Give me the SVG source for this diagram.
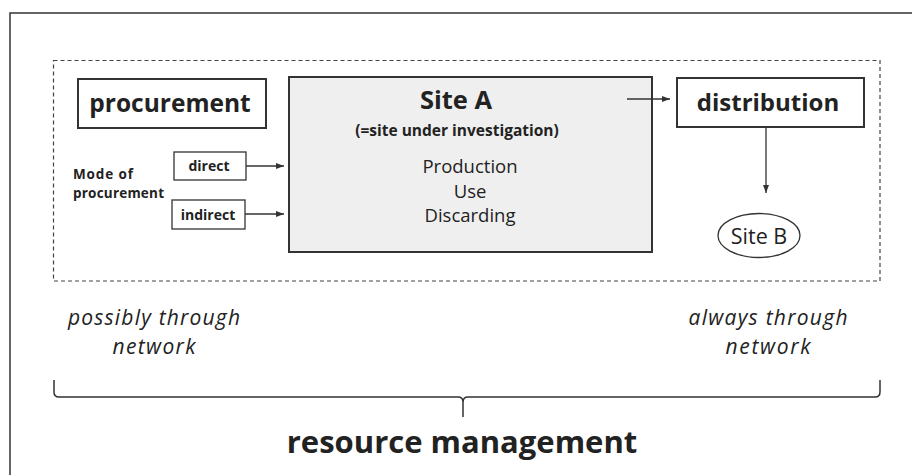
<svg xmlns="http://www.w3.org/2000/svg" width="912" height="475" viewBox="0 0 912 475">
  <style>
    text { font-family: "Open Sans", "Noto Sans", "Liberation Sans", sans-serif; fill: #222; }
    .b { font-weight: bold; }
    .it { font-style: italic; }
    .mid { text-anchor: middle; }
    .box { fill: #fff; stroke: #333; stroke-width: 2; }
    .thin { fill: #fff; stroke: #333; stroke-width: 1.3; }
    .conn { stroke: #333; stroke-width: 1.3; fill: none; marker-end: url(#ah); }
  </style>
  <defs>
    <marker id="ah" viewBox="0 0 8 8" refX="8" refY="4" markerWidth="8" markerHeight="8" markerUnits="userSpaceOnUse" orient="auto">
      <path d="M0,1 L8,4 L0,7 Z" fill="#333"/>
    </marker>
  </defs>

  <rect width="912" height="475" fill="#fff"/>
  <!-- outer frame, runs off the right and bottom edges -->
  <rect x="10" y="13" width="930" height="500" fill="none" stroke="#333" stroke-width="1.5"/>

  <!-- dashed boundary -->
  <rect id="boundary" x="53.5" y="60.5" width="826.5" height="220.5" fill="none" stroke="#444" stroke-width="1.2" stroke-dasharray="4,3"/>

  <g id="procurement">
    <rect class="box" x="78" y="79" width="188" height="49"/>
    <text class="b mid" x="170" y="112" font-size="24.5">procurement</text>
  </g>

  <g id="mode">
    <text class="b" x="73" y="179" font-size="13.5" textLength="60" lengthAdjust="spacing">Mode of</text>
    <text class="b" x="73" y="198" font-size="13.5" textLength="91" lengthAdjust="spacing">procurement</text>
  </g>

  <g id="direct">
    <rect class="thin" x="174" y="152" width="72" height="28"/>
    <text class="b mid" x="209" y="171" font-size="14">direct</text>
  </g>

  <g id="indirect">
    <rect class="thin" x="172" y="200" width="73" height="29"/>
    <text class="b mid" x="208" y="219.5" font-size="14">indirect</text>
  </g>

  <g id="siteA">
    <rect x="289" y="77" width="363" height="175" fill="#efefef" stroke="#333" stroke-width="2"/>
    <text class="b mid" x="456" y="109" font-size="25.5">Site A</text>
    <text class="b mid" x="457" y="136" font-size="15.5">(=site under investigation)</text>
    <text class="mid" x="470" y="173" font-size="18.5">Production</text>
    <text class="mid" x="470" y="198" font-size="18.5">Use</text>
    <text class="mid" x="470" y="222" font-size="18.5">Discarding</text>
  </g>

  <g id="distribution">
    <rect class="box" x="677" y="78" width="187" height="49"/>
    <text class="b mid" x="768" y="111" font-size="24">distribution</text>
  </g>

  <g id="siteB">
    <ellipse cx="759" cy="235.5" rx="41" ry="22" fill="#fff" stroke="#333" stroke-width="1.3"/>
    <text class="mid" x="759" y="244" font-size="21.5">Site B</text>
  </g>

  <g id="connectors">
    <line class="conn" x1="246" y1="166" x2="284" y2="166"/>
    <line class="conn" x1="245" y1="214" x2="284" y2="214"/>
    <line class="conn" x1="627" y1="99" x2="670" y2="99"/>
    <line class="conn" x1="766" y1="127" x2="766" y2="193"/>
  </g>

  <g id="notes">
    <text class="it mid" x="154" y="325" font-size="21" textLength="172" lengthAdjust="spacing">possibly through</text>
    <text class="it mid" x="154" y="354" font-size="21" textLength="83" lengthAdjust="spacing">network</text>
    <text class="it mid" x="768" y="325" font-size="21" textLength="159" lengthAdjust="spacing">always through</text>
    <text class="it mid" x="768" y="354" font-size="21" textLength="85" lengthAdjust="spacing">network</text>
  </g>

  <!-- brace spanning the boundary -->
  <g id="brace">
    <path d="M54,380 L54,392 Q54,397 59,397 L458,397 Q463,397 463,402 L463,417 M463,402 Q463,397 468,397 L875,397 Q880,397 880,392 L880,380" fill="none" stroke="#333" stroke-width="1.5"/>
    <text class="b mid" x="462" y="453" font-size="31">resource management</text>
  </g>
</svg>
